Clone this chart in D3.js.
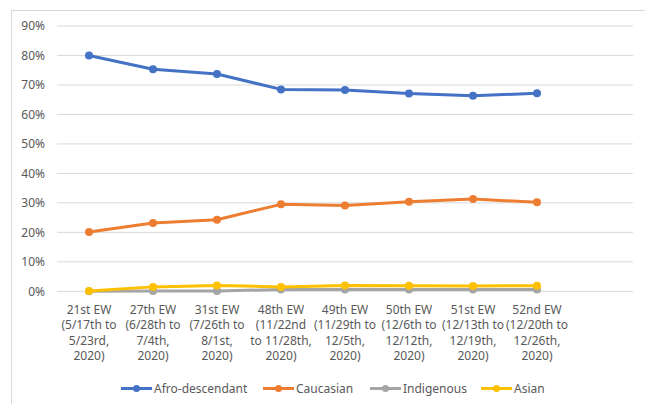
<!DOCTYPE html>
<html>
<head>
<meta charset="utf-8">
<script src="https://cdn.jsdelivr.net/npm/d3@7"></script>
<style>
  body { margin: 0; background: #fff; }
  svg { display: block; font-family: "Noto Sans", "Open Sans", sans-serif; }
</style>
</head>
<body>
<svg id="canvas" width="645" height="404"></svg>
<script>
// Epidemiological weeks (categories)
var WEEKS = ['21st', '27th', '31st', '48th', '49th', '50th', '51st', '52nd'];

// Tick label lines for each week
var WEEK_LABELS = [
  ['21st EW', '(5/17th to', '5/23rd,', '2020)'],
  ['27th EW', '(6/28th to', '7/4th,', '2020)'],
  ['31st EW', '(7/26th to', '8/1st,', '2020)'],
  ['48th EW', '(11/22nd', 'to 11/28th,', '2020)'],
  ['49th EW', '(11/29th to', '12/5th,', '2020)'],
  ['50th EW', '(12/6th to', '12/12th,', '2020)'],
  ['51st EW', '(12/13th to', '12/19th,', '2020)'],
  ['52nd EW', '(12/20th to', '12/26th,', '2020)']
];

// Series values in percent
var AFRO = [80.0, 75.3, 73.7, 68.5, 68.3, 67.1, 66.3, 67.2];
var CAUCASIAN = [20.1, 23.2, 24.3, 29.5, 29.1, 30.4, 31.3, 30.2];
var INDIGENOUS = [0.0, 0.1, 0.1, 0.6, 0.6, 0.6, 0.6, 0.6];
var ASIAN = [0.1, 1.5, 2.0, 1.5, 2.0, 1.9, 1.8, 1.9];

var SERIES_NAMES = ['Afro-descendant', 'Caucasian', 'Indigenous', 'Asian'];
var Y_TICKS = [0, 10, 20, 30, 40, 50, 60, 70, 80, 90];

var series = [
  { name: SERIES_NAMES[0], values: AFRO, color: '#4472C4' },
  { name: SERIES_NAMES[1], values: CAUCASIAN, color: '#ED7D31' },
  { name: SERIES_NAMES[2], values: INDIGENOUS, color: '#A5A5A5' },
  { name: SERIES_NAMES[3], values: ASIAN, color: '#FFC000' }
];

var canvas = d3.select('#canvas');

// Plot area
var plot = { left: 57, right: 633, top: 26, bottom: 291.3 };
var bandStep = (plot.right - plot.left) / 9;

// Chart frame
canvas.append('rect')
  .attr('x', 11.5)
  .attr('y', 10.5)
  .attr('width', 700)
  .attr('height', 500)
  .attr('fill', 'none')
  .attr('stroke', '#d9d9d9');

var x = d3.scaleBand()
  .domain(WEEKS)
  .range([plot.left, plot.left + bandStep * WEEKS.length]);

var y = d3.scaleLinear()
  .domain([0, 90])
  .range([plot.bottom, plot.top]);

// Gridlines
canvas.append('g')
  .selectAll('line')
  .data(Y_TICKS)
  .enter()
  .append('line')
  .attr('x1', plot.left)
  .attr('x2', plot.right)
  .attr('y1', function (d) { return y(d); })
  .attr('y2', function (d) { return y(d); })
  .attr('stroke', '#d9d9d9')
  .attr('stroke-width', 1);

// Y axis labels
var yAxis = d3.axisLeft(y)
  .tickValues(Y_TICKS)
  .tickSize(0)
  .tickPadding(12)
  .tickFormat(function (d) { return d + '%'; });

canvas.append('g')
  .attr('transform', 'translate(' + plot.left + ',0)')
  .call(yAxis)
  .call(function (g) { g.select('.domain').remove(); })
  .selectAll('text')
  .attr('fill', '#595959')
  .style('font-size', '12px')
  .style('font-family', '"Noto Sans", sans-serif');

// X axis labels (multi-line)
var xLabels = canvas.append('g')
  .selectAll('text')
  .data(WEEKS)
  .enter()
  .append('text')
  .attr('text-anchor', 'middle')
  .attr('fill', '#595959')
  .style('font-size', '12px')
  .attr('transform', function (d) {
    return 'translate(' + (x(d) + x.bandwidth() / 2) + ',313.5)';
  });

xLabels.selectAll('tspan')
  .data(function (d, i) { return WEEK_LABELS[i]; })
  .enter()
  .append('tspan')
  .attr('x', 0)
  .attr('y', function (d, i) { return i * 15.5; })
  .text(function (d) { return d; });

// Lines and markers
var line = d3.line()
  .x(function (d, i) { return x(WEEKS[i]) + x.bandwidth() / 2; })
  .y(function (d) { return y(d); });

series.forEach(function (s) {
  var g = canvas.append('g');
  g.append('path')
    .datum(s.values)
    .attr('d', line)
    .attr('fill', 'none')
    .attr('stroke', s.color)
    .attr('stroke-width', 3)
    .attr('stroke-linejoin', 'round')
    .attr('stroke-linecap', 'round');
  g.selectAll('circle')
    .data(s.values)
    .enter()
    .append('circle')
    .attr('cx', function (d, i) { return x(WEEKS[i]) + x.bandwidth() / 2; })
    .attr('cy', function (d) { return y(d); })
    .attr('r', 4)
    .attr('fill', s.color);
});

// Legend
var legendX = [121, 263, 370, 481];
var legend = canvas.append('g')
  .selectAll('g')
  .data(series)
  .enter()
  .append('g')
  .attr('transform', function (d, i) { return 'translate(' + legendX[i] + ',388.5)'; });

legend.append('line')
  .attr('x1', 0)
  .attr('x2', 31)
  .attr('stroke', function (d) { return d.color; })
  .attr('stroke-width', 3);

legend.append('circle')
  .attr('cx', 15.5)
  .attr('r', 3.5)
  .attr('fill', function (d) { return d.color; });

legend.append('text')
  .attr('x', 33)
  .attr('dy', '0.35em')
  .attr('fill', '#595959')
  .style('font-size', '12px')
  .text(function (d) { return d.name; });
</script>
</body>
</html>
